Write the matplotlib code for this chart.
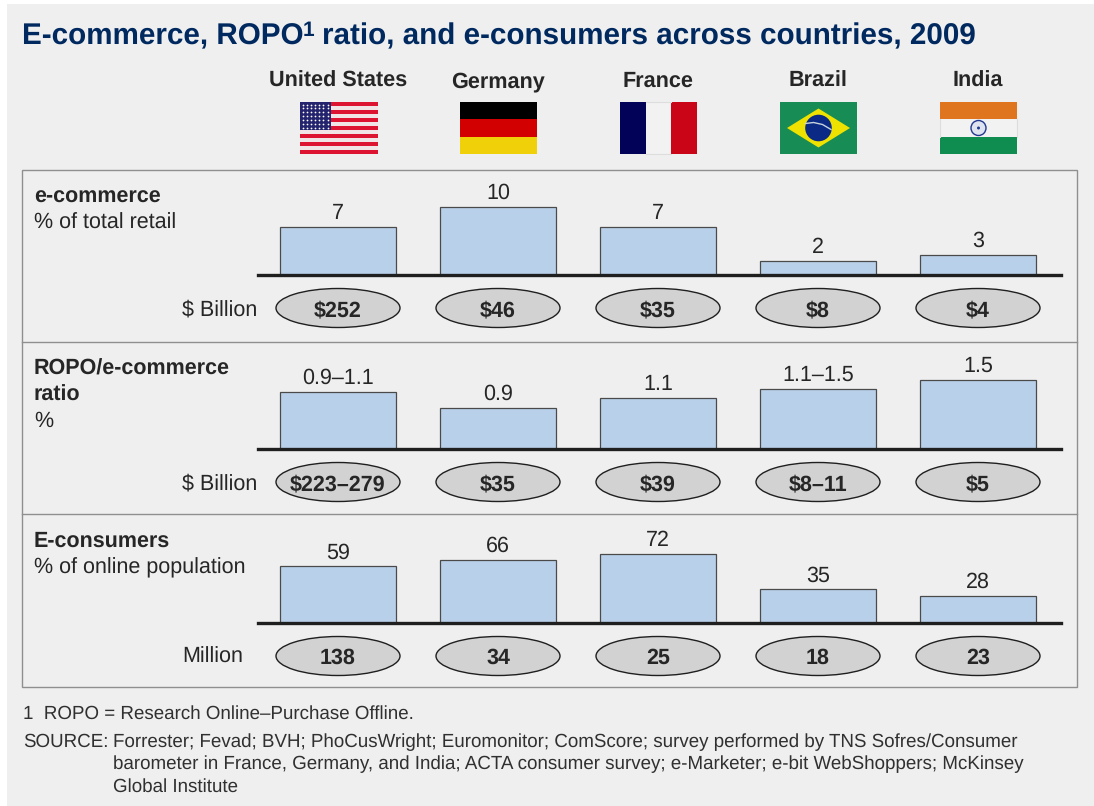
#E-commerce, ROPO ratio and e-consumers across countries, 2009
import matplotlib
matplotlib.use('Agg')
import matplotlib.pyplot as plt
from matplotlib.patches import Ellipse, Rectangle, Polygon, Circle
import numpy as np

plt.rcParams['font.family'] = ['Liberation Sans', 'DejaVu Sans']
plt.rcParams['text.hinting'] = 'no_hinting'

#Data
countries = ['United States', 'Germany', 'France', 'Brazil', 'India']
ecommerce = [7, 10, 7, 2, 3]
ecommerce_labels = ['7', '10', '7', '2', '3']
ecommerce_money = ['$252', '$46', '$35', '$8', '$4']
ropo = [1.24, 0.9, 1.1, 1.3, 1.5]   # bars of the ranges are drawn near the top of the range
ropo_labels = ['0.9–1.1', '0.9', '1.1', '1.1–1.5', '1.5']
ropo_money = ['$223–279', '$35', '$39', '$8–11', '$5']
consumers = [59, 66, 72, 35, 28]
consumers_labels = ['59', '66', '72', '35', '28']
consumers_money = ['138', '34', '25', '18', '23']

W, H = 1094, 806
TEXT = '#262626'
BAR = '#b9d0ea'
BODY = 15.5
fig = plt.figure(figsize=(W/100, H/100), dpi=100, facecolor='white')

#Full figure axes in pixels for frame, texts, flags
bg = fig.add_axes([0, 0, 1, 1])
bg.set_xlim(0, W)
bg.set_ylim(H, 0)
bg.axis('off')
bg.add_patch(Rectangle((7, 4), W-7, H-4, fc='#efefef', ec='none'))
bg.add_patch(Rectangle((22, 170), 1055, 517, fc='none', ec='#8f8f8f', lw=1))
bg.plot([22, 1077], [342, 342], color='#8f8f8f', lw=1)
bg.plot([22, 1077], [514, 514], color='#8f8f8f', lw=1)

#Title in three pieces because of the superscript
TITLE = '#002960'
bg.text(22, 44.5, 'E-commerce, ROPO', fontsize=21.3, fontweight='bold', color=TITLE, va='baseline')
bg.text(303, 36, '1', fontsize=15, fontweight='bold', color=TITLE, va='baseline')
bg.text(322, 44.5, 'ratio, and e-consumers across countries, 2009', fontsize=21.3, fontweight='bold', color=TITLE, va='baseline')

centers = [338 + 160*i for i in range(5)]
for c, name in zip(centers, countries):
    bg.text(c, 87, name, fontsize=15.6, fontweight='bold', color=TEXT, ha='center', va='baseline')

def flag_stripes(x, y, w, h, colors, horizontal=True):
    n = len(colors)
    for i, col in enumerate(colors):
        if horizontal:
            bg.add_patch(Rectangle((x, y + i*h/n), w, h/n, fc=col, ec='none'))
        else:
            bg.add_patch(Rectangle((x + i*w/n, y), w/n, h, fc=col, ec='none'))

FY, FH, FW = 102, 52, 77
#USA
x0 = centers[0] - 38
flag_stripes(x0, FY, FW+1, FH, ['#dc1431' if i % 2 == 0 else '#f0e4e6' for i in range(13)])
bg.add_patch(Rectangle((x0, FY), 31, 28, fc='#23236e', ec='none'))
sx, sy = np.meshgrid(np.arange(x0+2.5, x0+30, 4.2), np.arange(FY+2.5, FY+27, 3.9))
bg.scatter(sx.ravel(), sy.ravel(), s=1.6, color='white', linewidths=0)
#Germany
flag_stripes(centers[1]-38, FY, FW, FH, ['#000000', '#d20000', '#f0d008'])
#France
x0 = centers[2] - 38
flag_stripes(x0, FY, FW, FH, ['#020258', '#f2f2f2', '#c90517'], horizontal=False)
bg.plot([x0+FW/3, x0+2*FW/3], [FY+FH, FY+FH], color='#dddddd', lw=0.8)
bg.plot([x0+FW/3, x0+2*FW/3], [FY, FY], color='#dddddd', lw=0.8)
#Brazil
x0 = centers[3] - 38
bg.add_patch(Rectangle((x0, FY), FW, FH, fc='#178d55', ec='none'))
mx, my = x0 + FW/2, FY + FH/2
bg.add_patch(Polygon([(x0+7, my), (mx, FY+6.5), (x0+FW-7, my), (mx, FY+FH-6.5)], fc='#f0e200', ec='none'))
bg.add_patch(Circle((mx, my), 13.3, fc='#0a2a86', ec='none'))
t = np.array([-13, -5, 4, 12.5])
bg.plot(mx + t, my + np.array([-4.5, -5.5, -3.5, 1.5]), color='#c8d4dc', lw=1)
#India
x0 = centers[4] - 38
flag_stripes(x0, FY, FW, FH, ['#e07520', '#f2f2f2', '#0f8c50'])
bg.plot([x0, x0], [FY+FH/3, FY+2*FH/3], color='#dddddd', lw=0.8)
bg.plot([x0+FW, x0+FW], [FY+FH/3, FY+2*FH/3], color='#dddddd', lw=0.8)
mx, my = x0 + FW/2, FY + FH/2
bg.add_patch(Circle((mx, my), 7.5, fc='#dfe3f0', ec='#22378f', lw=1))
bg.add_patch(Circle((mx, my), 1.5, fc='#22378f', ec='none'))

#One axes per row, category positions 160 px apart, baseline from x=258 to x=1061
def row(baseline, scale, values, labels, money, unit, unit_x):
    height = 110
    ax = fig.add_axes([258/W, 1-baseline/H, (1061-258)/W, height/H])
    ax.patch.set_alpha(0)
    ax.set_xlim(-0.5, 4.519)
    ax.set_ylim(0, height/scale)
    bars = ax.bar(range(5), values, width=0.72, color=BAR, edgecolor='#4a4a4a', linewidth=0.9, zorder=2)
    for b, lab in zip(bars, labels):
        ax.annotate(lab, (b.get_x()+b.get_width()/2, b.get_height()), xytext=(0, 8), textcoords='offset pixels',
                    ha='center', va='baseline', fontsize=BODY, color=TEXT)
    for s in ['top', 'left', 'right']:
        ax.spines[s].set_visible(False)
    ax.spines['bottom'].set_linewidth(2.4)
    ax.spines['bottom'].set_color('#1f1f1f')
    ax.spines['bottom'].set_zorder(3)
    ax.set_xticks([])
    ax.set_yticks([])
    #Ovals under the bars
    oy = baseline + 33
    for c, m in zip(centers, money):
        bg.add_patch(Ellipse((c, oy), 124, 39, fc='#d2d2d2', ec='#1f1f1f', lw=1))
        bg.text(c, oy+8, m, fontsize=BODY, fontweight='bold', color=TEXT, ha='center', va='baseline')
    bg.text(unit_x, oy+7, unit, fontsize=BODY, color=TEXT, ha='left', va='baseline')

row(275, 6.8, ecommerce, ecommerce_labels, ecommerce_money, '$ Billion', 182)
row(449, 46.0, ropo, ropo_labels, ropo_money, '$ Billion', 182)
row(623, 0.96, consumers, consumers_labels, consumers_money, 'Million', 182)

#Row headers
def header(y, bold_lines, normal):
    for line in bold_lines:
        bg.text(34, y, line, fontsize=BODY, fontweight='bold', color=TEXT, va='baseline')
        y += 26
    bg.text(34, y, normal, fontsize=BODY, color=TEXT, va='baseline')

header(203, ['e-commerce'], '% of total retail')
header(375, ['ROPO/e-commerce', 'ratio'], '%')
header(547, ['E-consumers'], '% of online population')

#Footnotes
FOOT = '#303030'
FS = 13.5
bg.text(23, 719, '1  ROPO = Research Online–Purchase Offline.', fontsize=FS, color=FOOT, va='baseline')
bg.text(23, 747, 'SOURCE:', fontsize=FS, color=FOOT, va='baseline')
source_lines = ['Forrester; Fevad; BVH; PhoCusWright; Euromonitor; ComScore; survey performed by TNS Sofres/Consumer',
                'barometer in France, Germany, and India; ACTA consumer survey; e-Marketer; e-bit WebShoppers; McKinsey',
                'Global Institute']
for i, line in enumerate(source_lines):
    bg.text(113, 747 + i*22.5, line, fontsize=FS, color=FOOT, va='baseline')

fig.savefig('out.png', dpi=100, facecolor=fig.get_facecolor())
